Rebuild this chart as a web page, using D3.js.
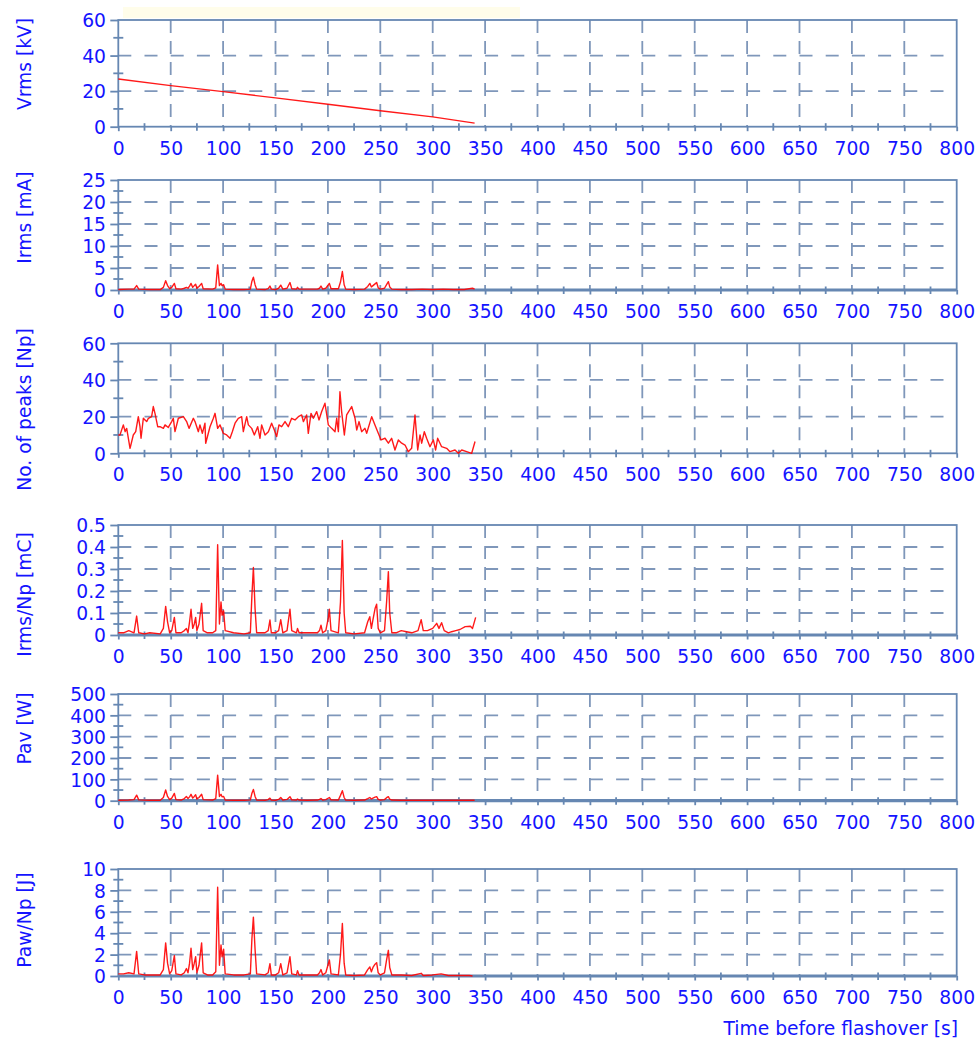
<!DOCTYPE html>
<html>
<head>
<meta charset="utf-8">
<script src="https://cdn.jsdelivr.net/npm/d3@7"></script>
<style>
  body { margin: 0; background: #ffffff; }
  svg { display: block; }
</style>
</head>
<body>
<svg id="chart" width="976" height="1040"></svg>
<script>
// Shared time axis (seconds before flashover)
const timeTicks = d3.range(0, 801, 50);
const timeMinorTicks = d3.range(25, 800, 50);

// Rms voltage [kV]
const vrmsSeries = [[0,26.8],[50,23.1],[100,19.7],[150,16.2],[200,12.6],[250,9.0],[300,5.5],[340,2.0]];

// Rms leakage current [mA]
const irmsSeries = [[0,0.1],[10,0.2],[15,0.2],[17.5,1.0],[19.5,0.2],[30,0.1],[40,0.1],[43,0.6],[45.2,2.1],[47,1.0],[49,0.3],[51,0.6],[53.5,1.5],[55,0.3],[60,0.2],[63,0.4],[65,0.6],[66.5,0.4],[68,0.9],[69.4,1.5],[71,0.6],[72.5,1.0],[73.8,1.3],[75,0.4],[77,0.8],[79.5,1.5],[81,0.3],[90,0.2],[93,0.5],[94.8,5.7],[96.5,1.0],[98,1.5],[99,1.0],[100.5,1.2],[102,0.2],[110,0.1],[120,0.1],[126,0.2],[127.5,2.0],[128.9,2.9],[130.5,1.2],[132,0.2],[140,0.1],[143,0.3],[144.7,0.9],[146,0.2],[150,0.1],[153,0.4],[155,1.1],[157,0.2],[161,0.4],[163.8,1.7],[165.5,0.3],[170,0.2],[171,0.6],[172.5,0.2],[180,0.2],[190,0.2],[192,0.4],[193.4,0.9],[195,0.2],[198,0.4],[201.4,1.5],[203,0.3],[210,0.3],[212,1.8],[213.8,4.2],[215.5,1.2],[217,0.2],[225,0.1],[235,0.2],[238,0.8],[240,1.5],[241.5,0.7],[243,1.0],[245,1.4],[246.5,1.7],[248,0.5],[250,0.2],[254,0.4],[256,1.2],[257.7,1.9],[259,0.7],[261,0.2],[270,0.1],[280,0.1],[290,0.2],[300,0.1],[310,0.2],[320,0.1],[330,0.1],[338,0.4],[340,0.2]];

// Number of current peaks per interval [Np]
const peaksSeries = [[0,10],[1.6,10],[4.8,15.5],[6.5,11.8],[8,13.6],[11.2,2.7],[14.3,10],[16.6,11.8],[19.1,20],[20.7,14.5],[21.7,8.2],[23.9,19.1],[25.5,18.2],[27.1,17.3],[28.7,19.1],[31.8,20],[33.4,25.5],[35,21.8],[37.6,14.5],[39.8,14.5],[43,13.6],[44.6,15.5],[47.7,14.1],[50.9,17.3],[52.5,19.1],[54.1,11.8],[57.3,19.1],[62.1,20],[65.2,17.3],[67.5,13.6],[71.6,19.1],[73.2,17.3],[76.4,11.8],[77.9,15.5],[80.2,10.9],[82.7,16.4],[83.4,5.5],[87.5,14.5],[90.7,19.1],[92.3,21.8],[94.8,13.6],[97,15.5],[100.2,10.9],[103.4,10],[106.6,8.2],[108.8,11.8],[111.4,16.4],[114.5,19.1],[117.7,20],[119.3,11.8],[122.5,20],[124.1,15.5],[127.3,13.6],[129.8,10],[133,14.5],[135.2,8.2],[136.8,15.5],[140,10],[143.2,11.8],[146.3,16.4],[148.9,12.7],[151.1,9.1],[153.3,15.5],[155.9,14.5],[159.1,17.3],[162.2,14.5],[165.4,19.1],[168.6,18.2],[171.8,20],[175,20.9],[176.6,17.3],[179.7,20.9],[181.3,10.9],[183.9,21.8],[186.1,19.1],[189.3,22.7],[191.5,18.2],[194,22.7],[197.2,27.3],[200.4,15.5],[203.6,13.6],[206.8,11.8],[208.4,19.1],[210,11.8],[211.5,33.6],[213.1,22.7],[215.7,10],[217.9,20.9],[222.7,25.5],[225.9,19.1],[227.5,12.7],[229.7,17.3],[232.2,11.8],[235.4,13.6],[237,10.9],[241.8,20],[244.9,15.5],[250.7,7.3],[254.5,8.2],[257.7,5.5],[260.8,8.2],[264,1.8],[267.2,7.3],[270.4,5.5],[273.6,4.5],[276.7,0.9],[279.9,2.7],[283.1,20.9],[285.7,1.8],[287.9,10],[289.5,5.5],[292,11.8],[294.2,8.2],[297.4,3.6],[300.6,7.3],[302.8,1.8],[304.7,8.2],[308.5,3.6],[313.3,2.7],[316.5,0.9],[321.3,1.8],[324.5,0],[327.7,1.8],[332.4,0.9],[337.2,0],[340.4,6.4]];

// Charge per peak [mC]
const chargeSeries = [[0,0.01],[5,0.01],[10,0.02],[15,0.01],[17.5,0.086],[19.5,0.01],[25,0.005],[30,0.01],[40,0.005],[43,0.03],[45.2,0.13],[47,0.06],[49,0.01],[51,0.02],[53.5,0.08],[55,0.01],[60,0.01],[63,0.02],[65,0.03],[66.5,0.01],[68,0.06],[69.4,0.117],[71,0.03],[72.5,0.05],[73.8,0.08],[75,0.02],[77,0.05],[79.5,0.144],[81,0.02],[85,0.01],[90,0.01],[93,0.02],[94.8,0.41],[96.5,0.05],[98,0.15],[99,0.09],[100.5,0.11],[102,0.02],[110,0.01],[120,0.005],[126,0.01],[127.5,0.18],[128.9,0.307],[130.5,0.12],[132,0.01],[140,0.01],[143,0.02],[144.7,0.068],[146,0.01],[150,0.01],[153,0.02],[155,0.07],[157,0.01],[161,0.02],[163.8,0.117],[165.5,0.02],[170,0.01],[171,0.03],[172.5,0.01],[180,0.01],[190,0.01],[192,0.02],[193.4,0.045],[195,0.01],[198,0.02],[200.5,0.08],[201.4,0.117],[203,0.02],[210,0.01],[212,0.15],[213.8,0.43],[215.5,0.1],[217,0.01],[225,0.005],[235,0.01],[238,0.06],[240,0.083],[241.5,0.03],[243,0.07],[245,0.12],[246.5,0.14],[248,0.03],[250,0.01],[254,0.02],[256,0.15],[257.7,0.288],[259,0.1],[261,0.01],[265,0.01],[270,0.02],[275,0.015],[280,0.01],[286,0.02],[289,0.07],[291,0.02],[295,0.02],[300,0.03],[303.8,0.053],[306,0.03],[308.5,0.056],[311,0.02],[315,0.01],[318,0.015],[322,0.02],[326,0.025],[331,0.038],[336,0.04],[338,0.03],[341,0.08]];

// Average power [W]
const powerSeries = [[0,2],[10,3],[15,5],[17.5,26],[19.5,4],[30,2],[40,2],[43,15],[45.2,50],[47,20],[49,5],[51,12],[53.5,34],[55,5],[60,3],[63,10],[65,20],[66.5,10],[68,18],[69.4,30],[71,12],[72.5,20],[73.8,28],[75,8],[77,15],[79.5,30],[81,5],[90,3],[93,10],[94.8,120],[96.5,20],[98,30],[99,18],[100.5,20],[102,3],[110,2],[120,2],[126,4],[127.5,35],[128.9,53],[130.5,20],[132,3],[140,2],[143,5],[144.7,12],[146,3],[150,2],[153,6],[155,15],[157,3],[161,6],[163.8,19],[165.5,4],[170,3],[171,8],[172.5,3],[180,2],[190,3],[192,6],[193.4,10],[195,3],[198,5],[201.4,15],[203,4],[210,3],[212,25],[213.8,47],[215.5,15],[217,3],[225,2],[235,3],[238,10],[240,15],[241.5,8],[243,12],[245,17],[246.5,19],[248,6],[250,3],[254,5],[256,14],[257.7,19],[259,7],[261,3],[270,2],[280,2],[300,2],[320,2],[340,2]];

// Energy per peak [J]
const energySeries = [[0,0.2],[5,0.2],[10,0.3],[15,0.2],[17.5,2.3],[19.5,0.2],[25,0.1],[30,0.1],[40,0.1],[43,0.6],[45.2,3.1],[47,1.2],[49,0.2],[51,0.5],[53.5,1.9],[55,0.2],[60,0.1],[63,0.3],[65,0.7],[66.5,0.3],[68,1.2],[69.4,2.6],[71,0.6],[72.5,1.2],[73.8,1.8],[75,0.3],[77,1.0],[79.5,3.1],[81,0.3],[85,0.1],[90,0.1],[93,0.4],[94.8,8.3],[96.5,1.0],[98,2.9],[99,1.8],[100.5,2.5],[102,0.2],[110,0.1],[120,0.1],[126,0.2],[127.5,3.5],[128.9,5.5],[130.5,2.5],[132,0.2],[140,0.1],[143,0.3],[144.7,1.15],[146,0.1],[150,0.1],[153,0.3],[155,1.15],[157,0.1],[161,0.3],[163.8,1.8],[165.5,0.2],[170,0.1],[171,0.5],[172.5,0.1],[180,0.1],[190,0.1],[192,0.3],[193.4,0.6],[195,0.1],[198,0.3],[201.4,1.5],[203,0.2],[210,0.1],[212,2.0],[213.8,4.9],[215.5,1.2],[217,0.1],[225,0.05],[235,0.1],[238,0.6],[240,0.85],[241.5,0.4],[243,0.8],[245,1.1],[246.5,1.25],[248,0.3],[250,0.1],[254,0.3],[256,1.5],[257.7,2.4],[259,0.8],[261,0.1],[270,0.1],[280,0.05],[289,0.25],[291,0.05],[300,0.1],[304,0.15],[308,0.2],[315,0.05],[325,0.05],[335,0.05],[338,0.0]];

// Panel definitions: label, series, y range and tick spacing
const panelLabels = ["Vrms [kV]", "Irms [mA]", "No. of peaks [Np]", "Irms/Np [mC]", "Pav [W]", "Paw/Np [J]"];
const panelSeries = [vrmsSeries, irmsSeries, peaksSeries, chargeSeries, powerSeries, energySeries];
const panelMax = [60, 25, 60, 0.5, 500, 10];
const panelStep = [20, 5, 20, 0.1, 100, 2];

// Layout (pixels)
const layout = [
  { top: 20,    bottom: 126.7, labelY: 64,    heavyBase: false },
  { top: 180,   bottom: 290,   labelY: 217.5, heavyBase: true  },
  { top: 343.3, bottom: 453.3, labelY: 409.5, heavyBase: false },
  { top: 525,   bottom: 635,   labelY: 594.5, heavyBase: true  },
  { top: 694,   bottom: 800.7, labelY: 728.5, heavyBase: true  },
  { top: 869,   bottom: 976,   labelY: 920,   heavyBase: true  }
];

const frameColor = "#6687b2";
const gridColor = "#7f97ba";
const textColor = "#1414ff";
const lineColor = "#ff0000";
const fontFamily = "'DejaVu Sans', Verdana, sans-serif";
const fontSize = 18.7;

const svg = d3.select("#chart");
const x = d3.scaleLinear().domain([0, 800]).range([118.3, 956.7]);

// pale band above the first plot
svg.append("rect")
  .attr("x", 123).attr("y", 7).attr("width", 397).attr("height", 11)
  .attr("fill", "#fffdea");

const fmtTick = d => String(+d.toFixed(3));

panelSeries.forEach((series, i) => {
  const L = layout[i];
  const max = panelMax[i], step = panelStep[i];
  const n = Math.round(max / step);
  const majors = d3.range(0, n + 1).map(k => +(k * step).toFixed(4));
  const minors = d3.range(0, n).map(k => +((k + 0.5) * step).toFixed(4));
  const y = d3.scaleLinear().domain([0, max]).range([L.bottom, L.top]);
  const g = svg.append("g");

  // dashed grid
  g.append("g").selectAll("line").data(majors.slice(1, -1)).join("line")
    .attr("x1", x(0)).attr("x2", x(800))
    .attr("y1", d => y(d)).attr("y2", d => y(d))
    .attr("stroke", gridColor).attr("stroke-width", 1.8)
    .attr("stroke-dasharray", "13,13.2");
  g.append("g").selectAll("line").data(timeTicks.slice(1, -1)).join("line")
    .attr("x1", d => x(d)).attr("x2", d => x(d))
    .attr("y1", y(max)).attr("y2", y(0))
    .attr("stroke", gridColor).attr("stroke-width", 1.8)
    .attr("stroke-dasharray", "13,8");

  // plot frame
  g.append("rect")
    .attr("x", x(0)).attr("y", y(max))
    .attr("width", x(800) - x(0)).attr("height", y(0) - y(max))
    .attr("fill", "none").attr("stroke", frameColor).attr("stroke-width", 1.8);
  if (L.heavyBase) {
    g.append("line")
      .attr("x1", x(0)).attr("x2", x(800)).attr("y1", y(0)).attr("y2", y(0))
      .attr("stroke", frameColor).attr("stroke-width", 3.2);
  }

  // x axis
  const xAxis = g.append("g").attr("transform", `translate(0,${L.bottom})`)
    .call(d3.axisBottom(x).tickValues(timeTicks).tickSize(4.5).tickFormat(d3.format("d")));
  xAxis.select(".domain").remove();
  xAxis.selectAll(".tick line").attr("stroke", frameColor).attr("stroke-width", 1.8);
  xAxis.selectAll(".tick text")
    .attr("y", 28).attr("dy", null)
    .attr("fill", textColor).style("font-family", fontFamily).style("font-size", fontSize + "px");
  g.append("g").selectAll("line").data(timeMinorTicks).join("line")
    .attr("x1", d => x(d)).attr("x2", d => x(d))
    .attr("y1", L.bottom - 3.5).attr("y2", L.bottom + 4)
    .attr("stroke", frameColor).attr("stroke-width", 1.8);

  // y axis
  const yAxis = g.append("g").attr("transform", `translate(${x(0)},0)`)
    .call(d3.axisLeft(y).tickValues(majors).tickSize(8).tickPadding(4.3).tickFormat(fmtTick));
  yAxis.select(".domain").remove();
  yAxis.selectAll(".tick line").attr("stroke", frameColor).attr("stroke-width", 1.8);
  yAxis.selectAll(".tick text")
    .attr("dy", "0.36em")
    .attr("fill", textColor).style("font-family", fontFamily).style("font-size", fontSize + "px");
  g.append("g").selectAll("line").data(minors).join("line")
    .attr("x1", x(0) - 5).attr("x2", x(0) + 5)
    .attr("y1", d => y(d)).attr("y2", d => y(d))
    .attr("stroke", frameColor).attr("stroke-width", 1.8);

  // axis label
  g.append("text")
    .attr("transform", `translate(31,${L.labelY}) rotate(-90)`)
    .attr("text-anchor", "middle")
    .attr("fill", textColor).style("font-family", fontFamily).style("font-size", fontSize + "px")
    .text(panelLabels[i]);

  // measured trace
  const line = d3.line().x(d => x(d[0])).y(d => y(d[1]));
  g.append("path").datum(series)
    .attr("d", line)
    .attr("fill", "none").attr("stroke", lineColor)
    .attr("stroke-width", 1.4)
    .attr("stroke-linejoin", "round").attr("opacity", 0.9);
});

// shared time axis title
svg.append("text")
  .attr("x", 958).attr("y", 1035)
  .attr("text-anchor", "end")
  .attr("fill", textColor).style("font-family", fontFamily).style("font-size", fontSize + "px")
  .text("Time before flashover [s]");
</script>
</body>
</html>
